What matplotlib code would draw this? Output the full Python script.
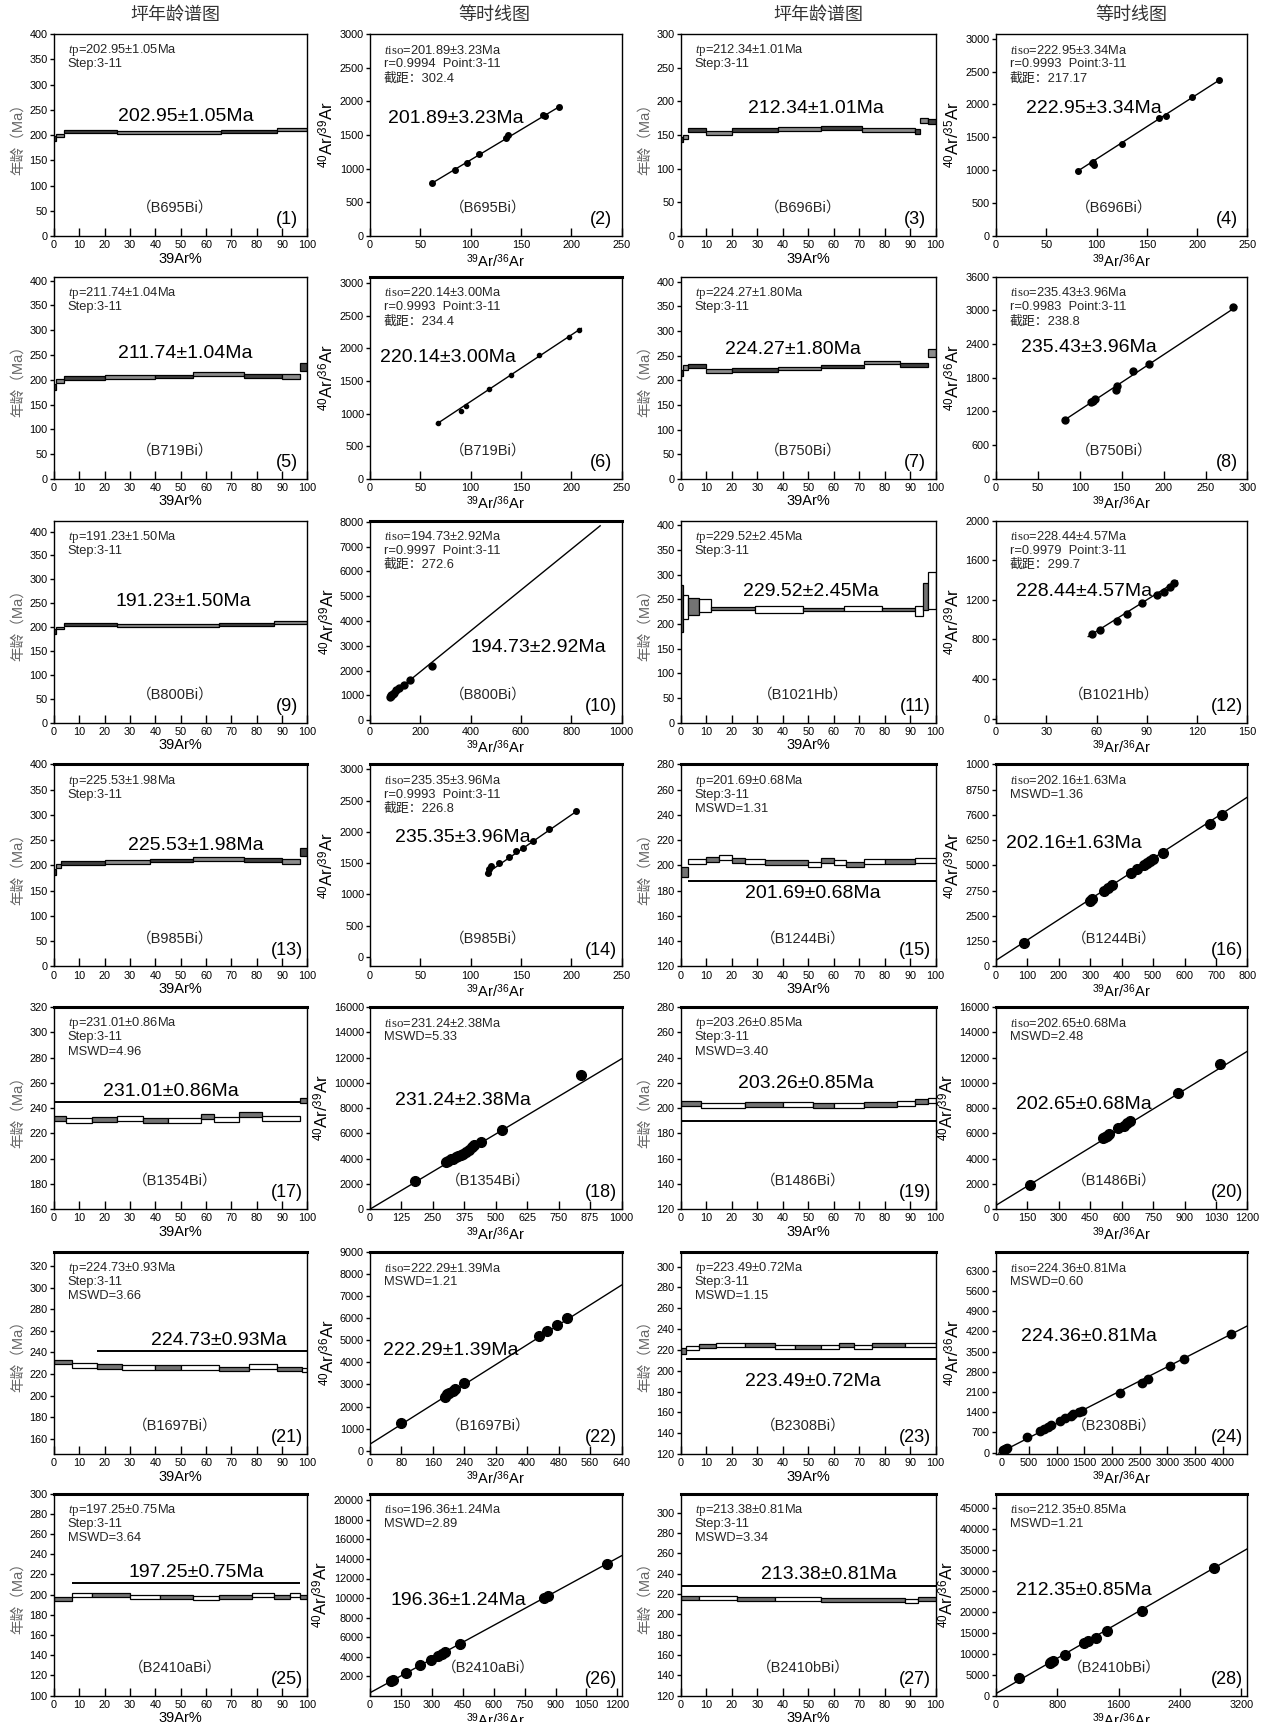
import numpy as np
import matplotlib.pyplot as plt
from matplotlib.patches import Rectangle
from matplotlib.ticker import MultipleLocator, FixedLocator

plt.rcParams['font.family'] = ['Liberation Sans', 'Noto Sans CJK SC']
plt.rcParams['mathtext.fontset'] = 'custom'
plt.rcParams['mathtext.rm'] = 'Liberation Sans'
plt.rcParams['mathtext.it'] = 'Liberation Serif:italic'
plt.rcParams['mathtext.sf'] = 'Liberation Serif'

# ---------------- plateau age spectra (panels 1,3,5,...,27)
spec_samples = ["B695Bi", "B696Bi", "B719Bi", "B750Bi", "B800Bi", "B1021Hb", "B985Bi",
                "B1244Bi", "B1354Bi", "B1486Bi", "B1697Bi", "B2308Bi", "B2410aBi", "B2410bBi"]
spec_ages = ["202.95±1.05", "212.34±1.01", "211.74±1.04", "224.27±1.80", "191.23±1.50",
             "229.52±2.45", "225.53±1.98", "201.69±0.68", "231.01±0.86", "203.26±0.85",
             "224.73±0.93", "223.49±0.72", "197.25±0.75", "213.38±0.81"]
spec_mswd = [None] * 7 + ["1.31", "4.96", "3.40", "3.66", "1.15", "3.64", "3.34"]

# steps: (cum % start, cum % end, age Ma, error Ma)
spec_steps = [
    [(0, 1, 193, 5), (1, 4, 199, 3), (4, 25, 208, 3), (25, 66, 205, 3), (66, 88, 207, 3), (88, 100, 211, 3)],
    [(0, 1, 143, 4), (1, 3, 147, 3), (3, 10, 157, 3), (10, 20, 153, 3), (20, 38, 157, 3), (38, 55, 159, 3),
     (55, 71, 161, 3), (71, 92, 158, 3), (92, 94, 155, 4), (94, 97, 172, 4), (97, 100, 170, 4)],
    [(0, 1, 185, 6), (1, 4, 198, 4), (4, 20, 203, 4), (20, 40, 205, 4), (40, 55, 207, 3), (55, 75, 211, 4),
     (75, 90, 208, 4), (90, 97, 206, 5), (97, 100, 225, 8)],
    [(0, 1, 215, 6), (1, 3, 225, 5), (3, 10, 228, 4), (10, 20, 218, 4), (20, 38, 220, 4), (38, 55, 224, 3),
     (55, 72, 228, 3), (72, 86, 236, 4), (86, 97, 230, 4), (97, 100, 255, 8)],
    [(0, 1, 190, 5), (1, 4, 198, 3), (4, 25, 206, 3), (25, 65, 203, 3), (65, 87, 206, 3), (87, 100, 209, 3)],
    [(0, 1, 232, 48), (1, 3, 234, 24), (3, 7, 236, 17), (7, 12, 237, 13), (12, 29, 231, 3), (29, 48, 230, 7),
     (48, 64, 229, 3), (64, 79, 232, 5), (79, 92, 229, 3), (92, 95, 227, 10), (95, 97, 256, 28), (97, 100, 268, 38)],
    [(0, 1, 187, 6), (1, 3, 198, 4), (3, 20, 204, 4), (20, 38, 206, 4), (38, 55, 209, 3), (55, 75, 213, 4),
     (75, 90, 210, 4), (90, 97, 207, 5), (97, 100, 226, 8)],
    [(0, 3, 195, 4), (3, 10, 203, 2), (10, 15, 205, 2), (15, 20, 206, 2), (20, 25, 204, 2), (25, 33, 203, 2),
     (33, 50, 202, 2), (50, 55, 201, 2), (55, 60, 204, 2), (60, 65, 202, 2), (65, 72, 201, 2), (72, 80, 203, 2),
     (80, 92, 203, 2), (92, 100, 204, 2)],
    [(0, 5, 232, 2), (5, 15, 230, 2), (15, 25, 231, 2), (25, 35, 232, 2), (35, 45, 230, 2), (45, 58, 230, 2),
     (58, 63, 233, 2), (63, 73, 231, 2), (73, 82, 235, 2), (82, 97, 232, 2), (97, 100, 246, 2)],
    [(0, 8, 204, 2), (8, 25, 202, 2), (25, 40, 203, 2), (40, 52, 203, 2), (52, 60, 202, 2), (60, 72, 202, 2),
     (72, 85, 203, 2), (85, 92, 204, 2), (92, 97, 205, 2), (97, 100, 206, 2)],
    [(0, 7, 231, 2), (7, 17, 228, 2), (17, 27, 227, 2), (27, 40, 226, 2), (40, 50, 226, 2), (50, 65, 226, 2),
     (65, 77, 225, 2), (77, 88, 227, 2), (88, 98, 225, 2), (98, 100, 224, 2)],
    [(0, 2, 219, 3), (2, 7, 222, 2), (7, 14, 224, 2), (14, 25, 225, 2), (25, 37, 225, 2), (37, 45, 223, 2),
     (45, 55, 223, 2), (55, 62, 223, 2), (62, 68, 225, 2), (68, 75, 223, 2), (75, 88, 225, 2), (88, 100, 225, 2)],
    [(0, 7, 196, 2), (7, 15, 200, 2), (15, 30, 200, 2), (30, 42, 198, 2), (42, 55, 198, 2), (55, 65, 197, 2),
     (65, 78, 198, 2), (78, 87, 200, 2), (87, 93, 198, 2), (93, 97, 200, 2), (97, 100, 198, 2)],
    [(0, 7, 216, 2), (7, 22, 216, 2), (22, 37, 215, 2), (37, 55, 215, 2), (55, 88, 214, 2), (88, 93, 213, 2),
     (93, 100, 215, 2)],
]
# plateau bar: (age level, cum % start, cum % end)
spec_plateau = [None] * 7 + [(188, 3, 100), (245, 0, 97), (190, 0, 100), (241, 17, 100),
                             (211, 2, 100), (211, 7, 97), (228, 0, 100)]
spec_ylim = [(0, 400), (0, 300), (0, 408), (0, 410), (0, 423), (0, 410), (0, 400),
             (120, 280), (160, 320), (120, 280), (146, 333), (120, 314), (100, 300), (120, 319)]
spec_ystep = [50] * 7 + [20] * 7

# ---------------- isochrons (panels 2,4,...,28)
iso_ages = ["201.89±3.23", "222.95±3.34", "220.14±3.00", "235.43±3.96", "194.73±2.92",
            "228.44±4.57", "235.35±3.96", "202.16±1.63", "231.24±2.38", "202.65±0.68",
            "222.29±1.39", "224.36±0.81", "196.36±1.24", "212.35±0.85"]
iso_r = ["0.9994", "0.9993", "0.9993", "0.9983", "0.9997", "0.9979", "0.9993"] + [None] * 7
iso_icpt_txt = ["302.4", "217.17", "234.4", "238.8", "272.6", "299.7", "226.8"] + [None] * 7
iso_mswd = [None] * 7 + ["1.36", "5.33", "2.48", "1.21", "0.60", "2.89", "1.21"]
iso_ylabels = ["$^{40}$Ar/$^{39}$Ar", "$^{40}$Ar/$^{35}$Ar", "$^{40}$Ar/$^{36}$Ar", "$^{40}$Ar/$^{36}$Ar",
               "$^{40}$Ar/$^{39}$Ar", "$^{40}$Ar/$^{39}$Ar", "$^{40}$Ar/$^{39}$Ar", "$^{40}$Ar/$^{39}$Ar",
               "$^{40}$Ar/$^{39}$Ar", "$^{40}$Ar/$^{39}$Ar", "$^{40}$Ar/$^{36}$Ar", "$^{40}$Ar/$^{36}$Ar",
               "$^{40}$Ar/$^{39}$Ar", "$^{40}$Ar/$^{36}$Ar"]
iso_x = [
    [62, 84, 96, 108, 135, 137, 172, 174, 188],
    [82, 95, 96, 97, 125, 162, 169, 195, 222],
    [68, 90, 95, 118, 140, 168, 198, 208],
    [82, 113, 116, 118, 143, 144, 163, 182, 283],
    [78, 82, 85, 90, 95, 105, 115, 135, 160, 245],
    [57, 62, 72, 78, 87, 96, 100, 104, 106],
    [117, 118, 120, 128, 138, 145, 152, 162, 178, 205],
    [90, 300, 305, 345, 355, 370, 430, 450, 470, 480, 490, 500, 530, 680, 720],
    [180, 300, 310, 320, 330, 340, 350, 360, 370, 380, 395, 405, 415, 440, 525, 840],
    [160, 510, 520, 530, 540, 580, 610, 625, 640, 870, 1070],
    [80, 190, 195, 200, 210, 215, 240, 430, 450, 475, 500],
    [30, 60, 80, 100, 470, 700, 760, 850, 900, 1050, 1150, 1250, 1300, 1400, 1450, 2150, 2550, 2650, 3050, 3300, 4150],
    [104, 113, 174, 243, 296, 330, 348, 365, 435, 843, 861, 1148],
    [300, 700, 720, 750, 900, 1150, 1200, 1300, 1450, 1900, 2850],
]
iso_y = [
    [790, 980, 1090, 1220, 1450, 1500, 1800, 1780, 1920],
    [995, 1110, 1130, 1080, 1400, 1790, 1830, 2110, 2370],
    [860, 1040, 1120, 1380, 1600, 1900, 2170, 2290],
    [1050, 1370, 1380, 1420, 1580, 1650, 1920, 2050, 3060],
    [950, 980, 1000, 1050, 1100, 1200, 1300, 1400, 1600, 2200],
    [850, 900, 990, 1060, 1170, 1250, 1280, 1330, 1370],
    [1350, 1400, 1450, 1500, 1600, 1700, 1750, 1850, 2050, 2330],
    [1150, 3250, 3350, 3750, 3900, 4050, 4600, 4800, 5000, 5100, 5200, 5300, 5600, 7050, 7500],
    [2200, 3700, 3850, 3950, 4000, 4100, 4200, 4300, 4400, 4550, 4700, 4900, 5050, 5300, 6300, 10600],
    [1950, 5600, 5700, 5800, 5950, 6400, 6600, 6800, 7000, 9200, 11500],
    [1250, 2450, 2550, 2600, 2700, 2800, 3050, 5200, 5400, 5700, 6000],
    [80, 110, 140, 170, 540, 750, 830, 900, 950, 1100, 1200, 1280, 1330, 1400, 1450, 2050, 2420, 2550, 3000, 3250, 4120],
    [1500, 1600, 2300, 3100, 3700, 4100, 4300, 4500, 5300, 10000, 10200, 13500],
    [4300, 7800, 8100, 8400, 9800, 12600, 13000, 13900, 15500, 20300, 30600],
]
# fitted isochron: slope, intercept, x range of the drawn line
iso_slope = [8.97, 9.82, 10.2, 9.85, 8.23, 10.6, 11.1, 10.1, 11.9, 10.17, 11.25, 0.98, 11.5, 10.6]
iso_icpt = [234, 190, 166, 242, 308, 246, 51, 300, 0, 300, 300, 30, 300, 500]
iso_line_x = [(60, 190), (80, 224), (66, 210), (80, 287), (75, 915), (55, 108), (115, 207),
              (0, 800), (0, 1000), (0, 1200), (0, 640), (-50, 4450), (0, 1220), (0, 3280)]
iso_xlim = [(0, 250), (0, 250), (0, 250), (0, 300), (0, 1000), (0, 150), (0, 250),
            (0, 800), (0, 1000), (0, 1200), (0, 640), (-100, 4450), (0, 1220), (0, 3280)]
iso_xstep = [50, 50, 50, 50, 200, 30, 50, 100, 125, 150, 80, 500, 150, 800]
iso_ylim = [(0, 3000), (0, 3070), (0, 3100), (0, 3600), (-100, 8050), (-40, 2000), (-150, 3080),
            (0, 10000), (0, 16000), (0, 16000), (-150, 9000), (-50, 6950), (0, 20700), (0, 48500)]
iso_ystep = [500, 500, 500, 600, 1000, 400, 500, 1250, 2000, 2000, 1000, 700, 2000, 5000]
# tick labels as printed in the source figure
iso_ytick_text = {7: ["0", "1250", "2500", "2750", "5000", "6250", "7600", "8750", "1000"]}
iso_xtick_text = {9: ["0", "150", "300", "450", "600", "750", "900", "1030", "1200"]}

# ---------------- layout (pixels of a 1162x1568 canvas)
W, H = 1162.0, 1568.0
col_left = [49, 337, 620, 907]
col_w = [231, 229, 232, 229]
row_top = [31, 252, 474, 696, 917, 1140, 1360]
row_h = 184
col_titles = ["坪年龄谱图", "等时线图", "坪年龄谱图", "等时线图"]
col_title_x = [160, 450, 745, 1030]

spec_label_xy = [(0.52, 0.59), (0.53, 0.63), (0.52, 0.62), (0.44, 0.64), (0.51, 0.60), (0.51, 0.65),
                 (0.56, 0.60), (0.52, 0.36), (0.46, 0.58), (0.49, 0.62), (0.65, 0.56), (0.52, 0.36),
                 (0.56, 0.61), (0.58, 0.60)]
iso_label_xy = [(0.34, 0.58), (0.39, 0.63), (0.31, 0.60), (0.37, 0.65), (0.67, 0.37), (0.35, 0.65),
                (0.37, 0.64), (0.31, 0.61), (0.37, 0.54), (0.35, 0.52), (0.32, 0.51), (0.37, 0.58),
                (0.35, 0.47), (0.35, 0.52)]
iso_msize = [4, 4, 3, 5, 5, 5, 4, 7, 7, 7, 7, 6, 7, 7]

fig = plt.figure(figsize=(12.76, 17.22), dpi=100)

for i, t in enumerate(col_titles):
    fig.text(col_title_x[i] / W, 1 - 14 / H, t, ha='center', va='center', fontsize=13, color='0.2')


def style_axes(ax, thick_top):
    for s in ax.spines.values():
        s.set_linewidth(1.0)
    if thick_top:
        ax.spines['top'].set_linewidth(2.2)
    ax.tick_params(axis='x', direction='in', length=6, width=1, labelsize=7.8, pad=3)
    ax.tick_params(axis='y', direction='out', length=3, width=1, labelsize=7.8, pad=1.5)


def info_text(ax, lines):
    for k, s in enumerate(lines):
        ax.text(0.055, 0.92 - k * 0.07, s, transform=ax.transAxes, fontsize=9.3,
                va='center', ha='left', color='0.15')


for p in range(28):
    row, col = p // 4, p % 4
    left = col_left[col] / W
    bottom = 1 - (row_top[row] + row_h) / H
    ax = fig.add_axes([left, bottom, col_w[col] / W, row_h / H])
    k = row * 2 + col // 2
    style_axes(ax, row >= 3 or p in (5, 9))

    if col % 2 == 0:
        # plateau age spectrum
        for j, (s, e, age, err) in enumerate(spec_steps[k]):
            fc = '0.45' if j % 2 == 0 else 'white'
            if row < 4 and k != 5 and k != 7:
                fc = '0.25' if j % 2 == 0 else '0.55'
            ax.add_patch(Rectangle((s, age - err), e - s, 2 * err, facecolor=fc,
                                   edgecolor='black', linewidth=0.9))
        if spec_plateau[k] is not None:
            lvl, s, e = spec_plateau[k]
            ax.hlines(lvl, s, e, color='black', linewidth=1.4)
        ax.set_xlim(0, 100)
        ax.set_ylim(*spec_ylim[k])
        ax.xaxis.set_major_locator(MultipleLocator(10))
        ax.yaxis.set_major_locator(MultipleLocator(spec_ystep[k]))
        ax.set_xlabel("39Ar%", fontsize=10.5, labelpad=1)
        ax.set_ylabel("年龄（Ma）", fontsize=10.5, color='0.4', labelpad=3)
        lines = [r"$\mathit{t}\mathsf{p}$=" + spec_ages[k] + "Ma", "Step:3-11"]
        if spec_mswd[k]:
            lines.append("MSWD=" + spec_mswd[k])
        info_text(ax, lines)
        lx, ly = spec_label_xy[k]
        ax.text(lx, ly, spec_ages[k] + "Ma", transform=ax.transAxes, fontsize=14,
                ha='center', va='center')
        ax.text(0.48, 0.14, "（" + spec_samples[k] + "）", transform=ax.transAxes,
                fontsize=10.5, ha='center', va='center', color='0.15')
    else:
        # isochron
        xs = np.array(iso_line_x[k], dtype=float)
        ax.plot(xs, iso_icpt[k] + iso_slope[k] * xs, color='black', linewidth=1.0)
        ax.plot(iso_x[k], iso_y[k], 'o', color='black', markersize=iso_msize[k])
        ax.set_xlim(*iso_xlim[k])
        ax.set_ylim(*iso_ylim[k])
        xt = np.arange(0, iso_xlim[k][1] + 1, iso_xstep[k])
        ax.xaxis.set_major_locator(FixedLocator(xt))
        if k in iso_xtick_text:
            ax.set_xticklabels(iso_xtick_text[k])
        y_start = 2000 if k == 12 else 0
        yt = np.arange(y_start, iso_ylim[k][1] + 1, iso_ystep[k])
        ax.yaxis.set_major_locator(FixedLocator(yt))
        if k in iso_ytick_text:
            ax.set_yticklabels(iso_ytick_text[k])
        ax.set_xlabel("$^{39}$Ar/$^{36}$Ar", fontsize=10.5, labelpad=1)
        ax.set_ylabel(iso_ylabels[k], fontsize=12, labelpad=2)
        lines = [r"$\mathit{t}\mathsf{iso}$=" + iso_ages[k] + "Ma"]
        if iso_r[k]:
            lines.append("r=" + iso_r[k] + "  Point:3-11")
            lines.append("截距：" + iso_icpt_txt[k])
        if iso_mswd[k]:
            lines.append("MSWD=" + iso_mswd[k])
        info_text(ax, lines)
        lx, ly = iso_label_xy[k]
        ax.text(lx, ly, iso_ages[k] + "Ma", transform=ax.transAxes, fontsize=14,
                ha='center', va='center')
        ax.text(0.47, 0.14, "（" + spec_samples[k] + "）", transform=ax.transAxes,
                fontsize=10.5, ha='center', va='center', color='0.15')

    ax.text(0.92, 0.08, "(%d)" % (p + 1), transform=ax.transAxes, fontsize=13,
            ha='center', va='center')

fig.savefig("out.png", dpi=100)
